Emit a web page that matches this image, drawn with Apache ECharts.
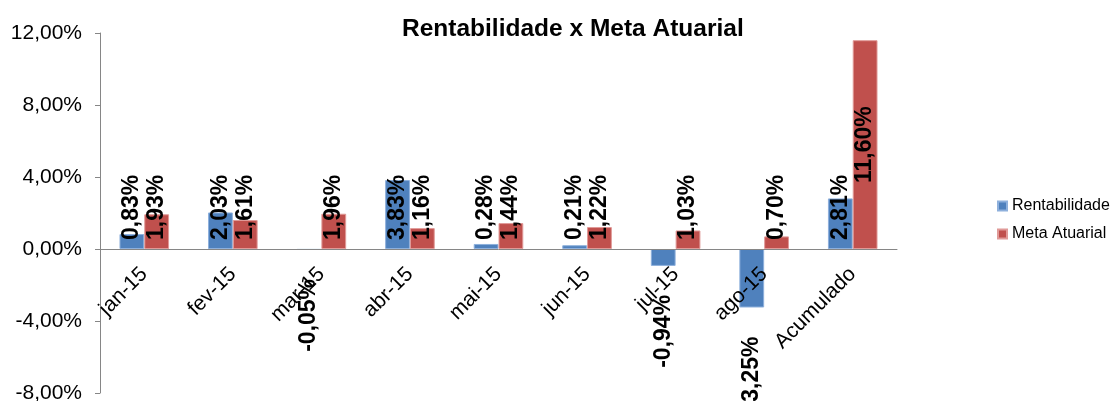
<!DOCTYPE html>
<html>
<head>
<meta charset="utf-8">
<title>Rentabilidade x Meta Atuarial</title>
<script src="https://cdn.jsdelivr.net/npm/echarts@6/dist/echarts.min.js"></script>
<style>
  html, body { margin: 0; padding: 0; background: #fff; }
  #chart { width: 1112px; height: 401px; }
</style>
</head>
<body>
<div id="chart"></div>
<script>
const categories = ['jan-15', 'fev-15', 'mar-15', 'abr-15', 'mai-15', 'jun-15', 'jul-15', 'ago-15', 'Acumulado'];
const rentabilidade = [0.83, 2.03, -0.05, 3.83, 0.28, 0.21, -0.94, -3.25, 2.81];
const metaAtuarial = [1.93, 1.61, 1.96, 1.16, 1.44, 1.22, 1.03, 0.70, 11.60];
const yMin = -8;
const yMax = 12;
const yStep = 4;

const font = '"Liberation Sans", Arial, sans-serif';
const pct = v => v.toFixed(2).replace('.', ',') + '%';

const gridTop = 33;
const gridBottom = 8;
const plotHeight = 401 - gridTop - gridBottom;
// the category axis sits on the zero line, labels included
const zeroOffset = -plotHeight * (0 - yMin) / (yMax - yMin);

// labels read bottom-to-top; negative ones hang below the bar end
const negLabel = { position: 'bottom', distance: 29, align: 'right' };
const midLabel = { position: 'inside', distance: 0, align: 'center' };

function barData(values, centered) {
  return values.map((v, i) => {
    if (v < 0) return { value: v, label: negLabel };
    if (centered && i === values.length - 1) return { value: v, label: midLabel };
    return v;
  });
}

const chart = echarts.init(document.getElementById('chart'));
chart.setOption({
  animation: false,
  title: {
    text: 'Rentabilidade x Meta Atuarial',
    left: 397,
    top: 12,
    textStyle: { fontFamily: font, fontSize: 24.5, fontWeight: 'bold', color: '#000' }
  },
  legend: {
    orient: 'vertical',
    left: 992,
    top: 193,
    icon: 'rect',
    itemWidth: 9,
    itemHeight: 9,
    itemGap: 12,
    textStyle: { fontFamily: font, fontSize: 16, color: '#000' },
    data: ['Rentabilidade', 'Meta Atuarial']
  },
  grid: {
    left: 100,
    right: 215,
    top: gridTop,
    bottom: gridBottom,
    containLabel: false,
    outerBoundsMode: 'none'
  },
  xAxis: {
    type: 'category',
    data: categories,
    offset: zeroOffset,
    z: 3,
    axisLine: { onZero: false, lineStyle: { color: '#868686' } },
    axisTick: { length: 5, lineStyle: { color: '#868686' } },
    axisLabel: {
      rotate: 45,
      margin: 22,
      interval: 0,
      fontFamily: font,
      fontSize: 21,
      color: '#000'
    }
  },
  yAxis: {
    type: 'value',
    min: yMin,
    max: yMax,
    interval: yStep,
    splitLine: { show: false },
    axisLine: { show: true, lineStyle: { color: '#868686' } },
    axisTick: { show: true, length: 5, lineStyle: { color: '#868686' } },
    axisLabel: {
      margin: 18,
      fontFamily: font,
      fontSize: 21,
      color: '#000',
      formatter: pct
    }
  },
  series: [
    {
      name: 'Rentabilidade',
      type: 'bar',
      data: barData(rentabilidade, false),
      barGap: '0%',
      barCategoryGap: '44%',
      itemStyle: { color: '#4F81BD', borderColor: '#8eb0dc', borderWidth: 1 },
      label: {
        show: true,
        position: 'insideBottom',
        distance: 9,
        rotate: 90,
        align: 'left',
        verticalAlign: 'middle',
        fontFamily: font,
        fontSize: 23,
        fontWeight: 'bold',
        color: '#000',
        formatter: p => pct(p.value)
      }
    },
    {
      name: 'Meta Atuarial',
      type: 'bar',
      data: barData(metaAtuarial, true),
      barGap: '0%',
      barCategoryGap: '44%',
      itemStyle: { color: '#C0504D', borderColor: '#e09a98', borderWidth: 1 },
      label: {
        show: true,
        position: 'insideBottom',
        distance: 9,
        rotate: 90,
        align: 'left',
        verticalAlign: 'middle',
        fontFamily: font,
        fontSize: 23,
        fontWeight: 'bold',
        color: '#000',
        formatter: p => pct(p.value)
      }
    }
  ]
});
</script>
</body>
</html>
